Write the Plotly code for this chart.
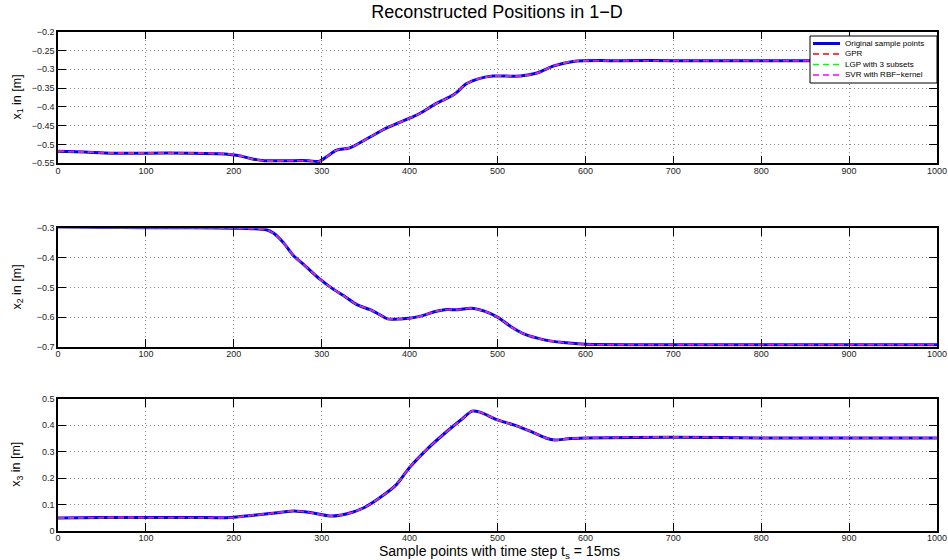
import plotly.graph_objects as go
from plotly.subplots import make_subplots

# ---------------- data ----------------
series_names = ["Original sample points", "GPR", "LGP with 3 subsets", "SVR with RBF\u2212kernel"]

x1_samples = [0, 30, 60, 100, 150, 190, 205, 220, 235, 260, 285, 297, 306, 317, 332, 355, 374, 400,
              412, 431, 450, 465, 480, 495, 526, 545, 564, 586, 639, 700, 800, 900, 1000]
x1_values = [-0.518, -0.520, -0.523, -0.523, -0.523, -0.525, -0.529, -0.538, -0.543, -0.543, -0.543,
             -0.545, -0.532, -0.515, -0.509, -0.480, -0.456, -0.430, -0.417, -0.390, -0.368, -0.338,
             -0.324, -0.318, -0.318, -0.310, -0.291, -0.279, -0.277, -0.277, -0.277, -0.277, -0.276]

x2_samples = [0, 50, 100, 150, 207, 237, 245, 256, 268, 279, 298, 309, 328, 340, 355, 365, 375,
              390, 400, 415, 428, 440, 455, 470, 485, 500, 515, 530, 552, 575, 600, 700, 800, 900, 1000]
x2_values = [-0.296, -0.297, -0.298, -0.298, -0.300, -0.305, -0.316, -0.347, -0.393, -0.421, -0.472,
             -0.497, -0.534, -0.558, -0.575, -0.590, -0.606, -0.606, -0.604, -0.595, -0.582,
             -0.575, -0.575, -0.570, -0.580, -0.600, -0.632, -0.657, -0.676, -0.686, -0.692, -0.693,
             -0.693, -0.693, -0.693]

x3_samples = [0, 50, 100, 150, 196, 220, 241, 268, 287, 309, 321, 335, 348, 366, 385, 400, 420,
              440, 460, 471, 480, 499, 520, 537, 555, 565, 580, 600, 700, 800, 900, 1000]
x3_values = [0.048, 0.050, 0.050, 0.050, 0.050, 0.058, 0.065, 0.075, 0.069, 0.056, 0.059, 0.070,
             0.087, 0.125, 0.175, 0.240, 0.310, 0.370, 0.425, 0.454, 0.450, 0.422, 0.400, 0.378, 0.352,
             0.344, 0.349, 0.352, 0.355, 0.352, 0.352, 0.352]

x_ticks = list(range(0, 1001, 100))
y1_ticks = [-0.55, -0.5, -0.45, -0.4, -0.35, -0.3, -0.25, -0.2]
y2_ticks = [-0.7, -0.6, -0.5, -0.4, -0.3]
y3_ticks = [0, 0.1, 0.2, 0.3, 0.4, 0.5]

# ---------------- figure ----------------
FONT = "Liberation Sans, Arial, Helvetica, sans-serif"
W, H = 948, 560
L, R = 58, 11
PW = W - L - R

fig = make_subplots(rows=3, cols=1)

styles = [
    dict(color="#0000ff", width=3, dash="solid"),
    dict(color="#ff0000", width=1.3, dash="6px,4px"),
    dict(color="#00ff00", width=1.3, dash="6px,4px"),
    dict(color="#ff00ff", width=1.3, dash="6px,4px"),
]
panels = [(x1_samples, x1_values), (x2_samples, x2_values), (x3_samples, x3_values)]

for r, (xs, ys) in enumerate(panels, start=1):
    for name, st in zip(series_names, styles):
        fig.add_trace(go.Scatter(x=xs, y=ys, mode="lines", name=name,
                                 line=dict(color=st["color"], width=st["width"], dash=st["dash"],
                                           shape="spline", smoothing=0.8),
                                 showlegend=False), row=r, col=1)


def py(pix):
    return 1 - pix / H


def px(pix):
    return (pix - L) / PW


domains = [(py(163.3), py(31.7)), (py(346.7), py(228.3)), (py(530.7), py(399))]
yranges = [(-0.55, -0.2), (-0.7, -0.3), (0, 0.5)]
yticks = [y1_ticks, y2_ticks, y3_ticks]

axis_common = dict(showline=True, linecolor="black", linewidth=1.5, mirror="ticks",
                   ticks="inside", ticklen=8, tickwidth=1, tickcolor="black",
                   showgrid=True, gridcolor="#8a8a8a", griddash="1px,3px", gridwidth=1,
                   zeroline=False, tickfont=dict(family=FONT, size=9, color="#222222"),
                   automargin=False)

for i in range(3):
    fig.update_xaxes(range=[0, 1000], tickvals=x_ticks, domain=[0, 1], ticklabelstandoff=-2,
                     row=i + 1, col=1, **axis_common)
    fig.update_yaxes(range=list(yranges[i]), tickvals=yticks[i], domain=list(domains[i]),
                     row=i + 1, col=1, **axis_common)

annotations = []
ylabels = ["x<sub>1</sub> in [m]", "x<sub>2</sub> in [m]", "x<sub>3</sub> in [m]"]
for i, lab in enumerate(ylabels):
    annotations.append(dict(text=lab, textangle=-90, xref="paper", yref="paper",
                            x=px(17), y=(domains[i][0] + domains[i][1]) / 2,
                            xanchor="center", yanchor="middle", showarrow=False,
                            font=dict(family=FONT, size=12.5, color="black")))
annotations.append(dict(text="Sample points with time step t<sub>s</sub> = 15ms", xref="paper", yref="paper",
                        x=px(499), y=py(541), xanchor="center", yanchor="top", showarrow=False,
                        font=dict(family=FONT, size=14, color="black")))

# ---- legend box (drawn like the MATLAB legend) ----
shapes = [dict(type="rect", xref="paper", yref="paper", x0=px(810), x1=px(937), y0=py(83), y1=py(36),
               fillcolor="white", line=dict(color="black", width=1), layer="above")]
row_y = [43.5, 54, 64.5, 75]
for name, st, yy in zip(series_names, styles, row_y):
    shapes.append(dict(type="line", xref="paper", yref="paper", x0=px(813), x1=px(840),
                       y0=py(yy), y1=py(yy), layer="above",
                       line=dict(color=st["color"], width=st["width"] if st["width"] >= 3 else 1.3,
                                 dash=st["dash"])))
    annotations.append(dict(text=name, xref="paper", yref="paper", x=px(843), y=py(yy),
                            xanchor="left", yanchor="middle", showarrow=False,
                            font=dict(family=FONT, size=8, color="black")))

fig.update_layout(
    width=W, height=H,
    margin=dict(l=L, r=R, t=0, b=0),
    paper_bgcolor="white", plot_bgcolor="white",
    title=dict(text="Reconstructed Positions in 1\u2212D", x=497 / W, xanchor="center",
               y=1 - 12 / H, yanchor="middle", font=dict(family=FONT, size=18, color="black")),
    annotations=annotations,
    shapes=shapes,
    showlegend=False,
)

fig.write_html("out.html")
